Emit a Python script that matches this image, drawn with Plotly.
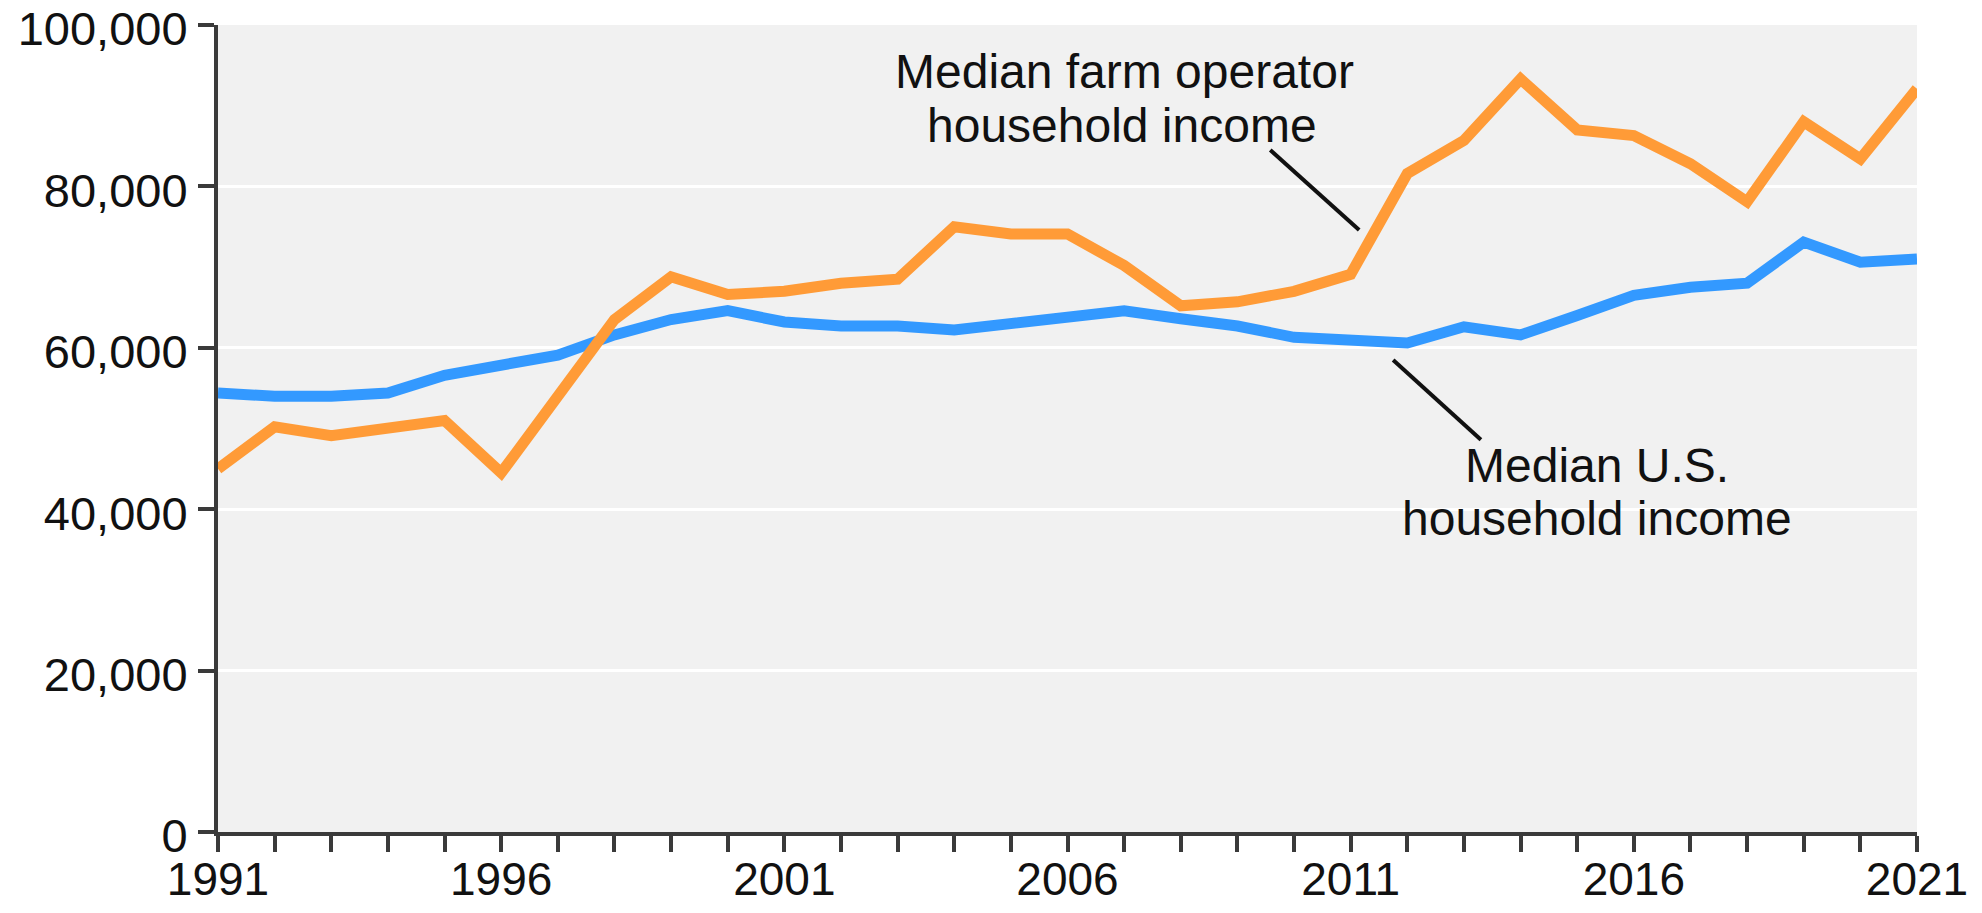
import plotly.graph_objects as go

years = list(range(1991, 2022))
farm_income = [45000, 50200, 49100, 50000, 51000, 44500, 54000, 63500, 68800, 66600,
               67000, 68000, 68500, 75000, 74100, 74100, 70200, 65200, 65700, 67000,
               69100, 81600, 85700, 93300, 87000, 86300, 82800, 78100, 88000, 83400,
               92100]
us_income = [54400, 54000, 54000, 54400, 56600, 57700, 59100, 61600, 63500, 64600,
             63200, 62700, 62700, 62200, 63000, 63500, 64600, 63600, 62700, 61300,
             60800, 60600, 62600, 61600, 64000, 66500, 67500, 68000, 73100, 70600,
             71000]
year_labels = [str(y) if (y - 1991) % 5 == 0 else "" for y in years]
y_ticks = [0, 20000, 40000, 60000, 80000, 100000]

farm_label = ["Median farm operator", "household income"]
us_label = ["Median U.S.", "household income"]
# label anchor positions (data coords)
farm_label_x = [2007.0, 2006.96]
farm_label_y = [94200, 87600]
us_label_x = [2015.35, 2015.35]
us_label_y = [45400, 38800]
# leader lines (data coords): x0, y0, x1, y1
farm_leader = [2009.58, 84500, 2011.15, 74600]
us_leader = [2011.75, 58500, 2013.30, 48600]

ORANGE = "#FF9B37"
BLUE = "#3399FF"
AXIS = "#3A3A3A"
TEXT = "#111111"
FONT = "Liberation Sans, Arial, sans-serif"

fig = go.Figure()
fig.add_trace(go.Scatter(x=years, y=us_income, mode="lines",
                         line=dict(color=BLUE, width=11), name="US"))
fig.add_trace(go.Scatter(x=years, y=farm_income, mode="lines",
                         line=dict(color=ORANGE, width=11), name="Farm"))

for txt, x, y in zip(farm_label + us_label, farm_label_x + us_label_x, farm_label_y + us_label_y):
    fig.add_annotation(x=x, y=y, text=txt, showarrow=False, xanchor="center",
                       yanchor="middle", font=dict(size=48, color=TEXT, family=FONT))

for ld in (farm_leader, us_leader):
    fig.add_shape(type="line", xref="x", yref="y", x0=ld[0], y0=ld[1], x1=ld[2], y1=ld[3],
                  line=dict(color=TEXT, width=4))

fig.update_layout(
    width=1966, height=897, autosize=False,
    margin=dict(l=210, r=57, t=17, b=73, autoexpand=False),
    paper_bgcolor="white", plot_bgcolor="#F1F1F1",
    showlegend=False,
    font=dict(family=FONT, size=46, color=TEXT),
)
fig.update_xaxes(range=[1991, 2021], tickvals=years, ticktext=year_labels,
                 ticks="outside", ticklen=16, tickwidth=4, tickcolor=AXIS,
                 showline=True, linewidth=4, linecolor=AXIS, automargin=False,
                 showgrid=False, zeroline=False, ticklabeloverflow="allow",
                 ticklabelstandoff=-12,
                 tickfont=dict(size=46, family=FONT, color=TEXT))
fig.update_yaxes(range=[0, 100000], tickvals=y_ticks, tickformat=",d",
                 ticks="outside", ticklen=16, tickwidth=4, tickcolor=AXIS,
                 showline=True, linewidth=4, linecolor=AXIS, ticklabelstandoff=1,
                 ticklabelshift=4,
                 showgrid=True, gridcolor="white", gridwidth=3, zeroline=False,
                 ticklabeloverflow="allow", automargin=False,
                 tickfont=dict(size=47, family=FONT, color=TEXT))

fig.write_html("out.html")
